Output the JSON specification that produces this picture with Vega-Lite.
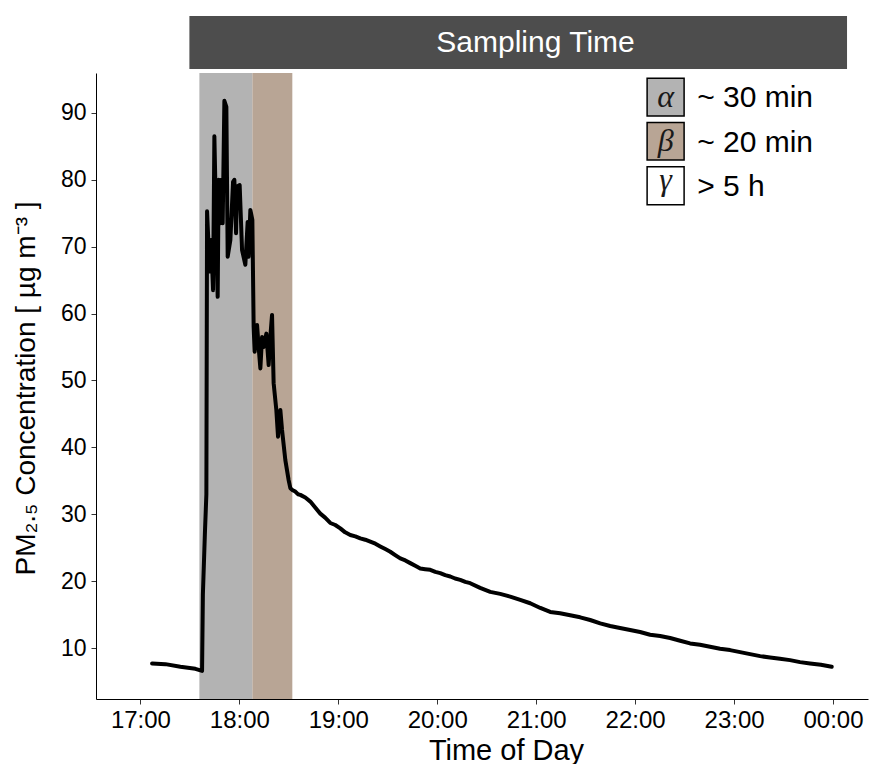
{
  "$schema": "https://vega.github.io/schema/vega-lite/v6.json",
  "width": 772,
  "height": 626,
  "autosize": "none",
  "padding": {"left": 96, "top": 73, "right": 2, "bottom": 65},
  "background": "white",
  "config": {"view": {"stroke": null}, "font": "Liberation Sans"},
  "datasets": {
    "pm": [
      {"time": "2020-01-01T17:07:05", "pm": 7.7},
      {"time": "2020-01-01T17:15:09", "pm": 7.6},
      {"time": "2020-01-01T17:24:14", "pm": 7.2},
      {"time": "2020-01-01T17:33:20", "pm": 6.9},
      {"time": "2020-01-01T17:37:23", "pm": 6.6},
      {"time": "2020-01-01T17:37:53", "pm": 18},
      {"time": "2020-01-01T17:39:05", "pm": 27},
      {"time": "2020-01-01T17:40:00", "pm": 33},
      {"time": "2020-01-01T17:40:25", "pm": 75.3},
      {"time": "2020-01-01T17:42:00", "pm": 66.3},
      {"time": "2020-01-01T17:42:51", "pm": 71},
      {"time": "2020-01-01T17:44:04", "pm": 63.5},
      {"time": "2020-01-01T17:44:51", "pm": 86.5},
      {"time": "2020-01-01T17:46:51", "pm": 62.5},
      {"time": "2020-01-01T17:47:27", "pm": 80},
      {"time": "2020-01-01T17:48:29", "pm": 73.5},
      {"time": "2020-01-01T17:49:05", "pm": 80},
      {"time": "2020-01-01T17:49:53", "pm": 73.5},
      {"time": "2020-01-01T17:50:55", "pm": 91.8},
      {"time": "2020-01-01T17:52:07", "pm": 90.9},
      {"time": "2020-01-01T17:52:55", "pm": 68.5},
      {"time": "2020-01-01T17:54:33", "pm": 71},
      {"time": "2020-01-01T17:56:11", "pm": 79.7},
      {"time": "2020-01-01T17:56:58", "pm": 80},
      {"time": "2020-01-01T17:58:00", "pm": 72},
      {"time": "2020-01-01T17:58:36", "pm": 79},
      {"time": "2020-01-01T18:00:11", "pm": 79.2},
      {"time": "2020-01-01T18:01:38", "pm": 69.5},
      {"time": "2020-01-01T18:03:38", "pm": 67.3},
      {"time": "2020-01-01T18:05:02", "pm": 73.7},
      {"time": "2020-01-01T18:05:38", "pm": 68.5},
      {"time": "2020-01-01T18:06:40", "pm": 75.5},
      {"time": "2020-01-01T18:07:53", "pm": 74},
      {"time": "2020-01-01T18:08:40", "pm": 58},
      {"time": "2020-01-01T18:09:16", "pm": 54.3},
      {"time": "2020-01-01T18:10:44", "pm": 58.3},
      {"time": "2020-01-01T18:11:42", "pm": 55},
      {"time": "2020-01-01T18:12:44", "pm": 51.8},
      {"time": "2020-01-01T18:13:46", "pm": 56.5},
      {"time": "2020-01-01T18:14:44", "pm": 55},
      {"time": "2020-01-01T18:16:22", "pm": 57},
      {"time": "2020-01-01T18:17:46", "pm": 52.3},
      {"time": "2020-01-01T18:18:47", "pm": 56.5},
      {"time": "2020-01-01T18:19:49", "pm": 59.8},
      {"time": "2020-01-01T18:20:47", "pm": 49.6},
      {"time": "2020-01-01T18:22:25", "pm": 45.6},
      {"time": "2020-01-01T18:23:27", "pm": 41.6},
      {"time": "2020-01-01T18:24:51", "pm": 45.6},
      {"time": "2020-01-01T18:25:53", "pm": 42.6},
      {"time": "2020-01-01T18:27:53", "pm": 38.1},
      {"time": "2020-01-01T18:29:53", "pm": 35.1},
      {"time": "2020-01-01T18:30:55", "pm": 33.9},
      {"time": "2020-01-01T18:32:20", "pm": 33.6},
      {"time": "2020-01-01T18:33:56", "pm": 33.4},
      {"time": "2020-01-01T18:35:30", "pm": 33.0},
      {"time": "2020-01-01T18:36:58", "pm": 32.9},
      {"time": "2020-01-01T18:40:00", "pm": 32.5},
      {"time": "2020-01-01T18:43:02", "pm": 31.9},
      {"time": "2020-01-01T18:46:00", "pm": 31.0},
      {"time": "2020-01-01T18:49:05", "pm": 30.1},
      {"time": "2020-01-01T18:52:00", "pm": 29.5},
      {"time": "2020-01-01T18:55:09", "pm": 28.7},
      {"time": "2020-01-01T18:58:10", "pm": 28.4},
      {"time": "2020-01-01T19:01:13", "pm": 27.9},
      {"time": "2020-01-01T19:04:10", "pm": 27.3},
      {"time": "2020-01-01T19:07:16", "pm": 26.9},
      {"time": "2020-01-01T19:10:20", "pm": 26.7},
      {"time": "2020-01-01T19:13:20", "pm": 26.4},
      {"time": "2020-01-01T19:16:20", "pm": 26.2},
      {"time": "2020-01-01T19:19:23", "pm": 25.9},
      {"time": "2020-01-01T19:22:30", "pm": 25.6},
      {"time": "2020-01-01T19:25:27", "pm": 25.2},
      {"time": "2020-01-01T19:28:30", "pm": 24.8},
      {"time": "2020-01-01T19:31:31", "pm": 24.4},
      {"time": "2020-01-01T19:34:30", "pm": 23.9},
      {"time": "2020-01-01T19:37:35", "pm": 23.4},
      {"time": "2020-01-01T19:40:40", "pm": 23.1},
      {"time": "2020-01-01T19:43:38", "pm": 22.7},
      {"time": "2020-01-01T19:46:40", "pm": 22.3},
      {"time": "2020-01-01T19:49:42", "pm": 21.9},
      {"time": "2020-01-01T19:52:40", "pm": 21.8},
      {"time": "2020-01-01T19:55:46", "pm": 21.7},
      {"time": "2020-01-01T19:58:50", "pm": 21.4},
      {"time": "2020-01-01T20:01:49", "pm": 21.2},
      {"time": "2020-01-01T20:04:50", "pm": 20.9},
      {"time": "2020-01-01T20:07:53", "pm": 20.7},
      {"time": "2020-01-01T20:10:50", "pm": 20.4},
      {"time": "2020-01-01T20:13:56", "pm": 20.2},
      {"time": "2020-01-01T20:17:00", "pm": 19.9},
      {"time": "2020-01-01T20:20:00", "pm": 19.7},
      {"time": "2020-01-01T20:26:00", "pm": 19.0},
      {"time": "2020-01-01T20:32:07", "pm": 18.4},
      {"time": "2020-01-01T20:38:10", "pm": 18.1},
      {"time": "2020-01-01T20:44:14", "pm": 17.7},
      {"time": "2020-01-01T20:50:20", "pm": 17.2},
      {"time": "2020-01-01T20:56:22", "pm": 16.7},
      {"time": "2020-01-01T21:02:30", "pm": 16.0},
      {"time": "2020-01-01T21:08:29", "pm": 15.4},
      {"time": "2020-01-01T21:14:30", "pm": 15.2},
      {"time": "2020-01-01T21:20:37", "pm": 14.9},
      {"time": "2020-01-01T21:26:40", "pm": 14.6},
      {"time": "2020-01-01T21:32:44", "pm": 14.2},
      {"time": "2020-01-01T21:38:50", "pm": 13.7},
      {"time": "2020-01-01T21:44:51", "pm": 13.3},
      {"time": "2020-01-01T21:50:50", "pm": 13.0},
      {"time": "2020-01-01T21:56:58", "pm": 12.7},
      {"time": "2020-01-01T22:03:00", "pm": 12.4},
      {"time": "2020-01-01T22:09:05", "pm": 12.0},
      {"time": "2020-01-01T22:15:10", "pm": 11.8},
      {"time": "2020-01-01T22:21:13", "pm": 11.5},
      {"time": "2020-01-01T22:27:20", "pm": 11.1},
      {"time": "2020-01-01T22:33:20", "pm": 10.7},
      {"time": "2020-01-01T22:39:20", "pm": 10.5},
      {"time": "2020-01-01T22:45:27", "pm": 10.2},
      {"time": "2020-01-01T22:51:30", "pm": 9.9},
      {"time": "2020-01-01T22:57:35", "pm": 9.7},
      {"time": "2020-01-01T23:03:40", "pm": 9.4},
      {"time": "2020-01-01T23:09:42", "pm": 9.1},
      {"time": "2020-01-01T23:15:50", "pm": 8.8},
      {"time": "2020-01-01T23:21:49", "pm": 8.6},
      {"time": "2020-01-01T23:27:50", "pm": 8.4},
      {"time": "2020-01-01T23:33:56", "pm": 8.2},
      {"time": "2020-01-01T23:40:00", "pm": 7.9},
      {"time": "2020-01-01T23:46:04", "pm": 7.7},
      {"time": "2020-01-01T23:52:40", "pm": 7.5},
      {"time": "2020-01-01T23:59:12", "pm": 7.2}
    ],
    "phases": [
      {"phase": "alpha", "start": "2020-01-01T17:35:45", "end": "2020-01-01T18:07:53"},
      {"phase": "beta", "start": "2020-01-01T18:07:53", "end": "2020-01-01T18:32:07"}
    ],
    "strip": [
      {"label": "Sampling Time", "start": "2020-01-01T17:29:42", "end": "2020-01-02T00:08:30", "mid": "2020-01-01T20:59:36", "lo": 96.56, "hi": 104.48, "base": 99.1}
    ],
    "legend": [
      {"phase": "alpha", "symbol": "α", "label": "~ 30 min", "t0": "2020-01-01T22:07:16", "t1": "2020-01-01T22:29:42", "c0": 89.54, "c1": 95.17, "tm": "2020-01-01T22:18:30", "cs": 90.93, "tl": "2020-01-01T22:37:36", "cl": 90.84},
      {"phase": "beta", "symbol": "β", "label": "~ 20 min", "t0": "2020-01-01T22:07:16", "t1": "2020-01-01T22:29:42", "c0": 82.96, "c1": 88.57, "tm": "2020-01-01T22:18:30", "cs": 84.35, "tl": "2020-01-01T22:37:36", "cl": 84.2},
      {"phase": "gamma", "symbol": "γ", "label": "> 5 h", "t0": "2020-01-01T22:07:16", "t1": "2020-01-01T22:29:42", "c0": 76.28, "c1": 81.96, "tm": "2020-01-01T22:18:30", "cs": 78.5, "tl": "2020-01-01T22:37:36", "cl": 77.58}
    ]
  },
  "layer": [
    {
      "data": {"name": "phases"},
      "mark": {"type": "rect", "opacity": 1},
      "encoding": {
        "x": {"field": "start", "type": "temporal", "scale": {"domain": [{"year": 2020, "month": 1, "date": 1, "hours": 16, "minutes": 33, "seconds": 4}, {"year": 2020, "month": 1, "date": 2, "hours": 0, "minutes": 21, "seconds": 13}]}},
        "x2": {"field": "end"},
        "color": {"field": "phase", "type": "nominal", "scale": {"domain": ["alpha", "beta", "gamma"], "range": ["#b3b3b3", "#b8a595", "#ffffff"]}, "legend": null}
      }
    },
    {
      "data": {"name": "pm"},
      "mark": {"type": "line", "color": "black", "strokeWidth": 4, "strokeJoin": "round", "strokeCap": "round"},
      "encoding": {
        "x": {
          "field": "time", "type": "temporal",
          "axis": {
            "title": "Time of Day", "format": "%H:%M",
            "values": [
              {"year": 2020, "month": 1, "date": 1, "hours": 17},
              {"year": 2020, "month": 1, "date": 1, "hours": 18},
              {"year": 2020, "month": 1, "date": 1, "hours": 19},
              {"year": 2020, "month": 1, "date": 1, "hours": 20},
              {"year": 2020, "month": 1, "date": 1, "hours": 21},
              {"year": 2020, "month": 1, "date": 1, "hours": 22},
              {"year": 2020, "month": 1, "date": 1, "hours": 23},
              {"year": 2020, "month": 1, "date": 2, "hours": 0}
            ],
            "grid": false, "labelFontSize": 24, "labelColor": "#000000", "labelPadding": 4, "labelFlush": false,
            "tickSize": 5, "tickColor": "#333333", "domainColor": "#000000",
            "titleFontSize": 29, "titleFontWeight": "normal", "titleColor": "#000000",
            "titleX": 410, "titleY": 37
          }
        },
        "y": {
          "field": "pm", "type": "quantitative",
          "scale": {"domain": [2.39, 95.96], "nice": false, "zero": false},
          "axis": {
            "title": "PM₂.₅ Concentration [ µg m⁻³ ]", "values": [10, 20, 30, 40, 50, 60, 70, 80, 90],
            "grid": false, "labelFontSize": 23, "labelColor": "#000000", "labelPadding": 5,
            "tickSize": 5, "tickColor": "#333333", "domainColor": "#000000",
            "titleFontSize": 28, "titleFontWeight": "normal", "titleColor": "#000000",
            "titleX": -56, "titleY": 315
          }
        }
      }
    },
    {
      "data": {"name": "strip"},
      "mark": {"type": "rect", "color": "#4d4d4d", "clip": false},
      "encoding": {
        "x": {"field": "start", "type": "temporal"},
        "x2": {"field": "end"},
        "y": {"field": "lo", "type": "quantitative"},
        "y2": {"field": "hi"}
      }
    },
    {
      "data": {"name": "strip"},
      "mark": {"type": "text", "color": "white", "fontSize": 30, "align": "center", "baseline": "alphabetic", "font": "Liberation Sans"},
      "encoding": {
        "x": {"field": "mid", "type": "temporal"},
        "y": {"field": "base", "type": "quantitative"},
        "text": {"field": "label"}
      }
    },
    {
      "data": {"name": "legend"},
      "mark": {"type": "rect", "stroke": "black", "strokeWidth": 1.5, "opacity": 1},
      "encoding": {
        "x": {"field": "t0", "type": "temporal"},
        "x2": {"field": "t1"},
        "y": {"field": "c0", "type": "quantitative"},
        "y2": {"field": "c1"},
        "color": {"field": "phase", "type": "nominal", "legend": null}
      }
    },
    {
      "data": {"name": "legend"},
      "mark": {"type": "text", "color": "#1a1a1a", "fontSize": 32, "fontStyle": "italic", "font": "Liberation Serif", "align": "center", "baseline": "alphabetic"},
      "encoding": {
        "x": {"field": "tm", "type": "temporal"},
        "y": {"field": "cs", "type": "quantitative"},
        "text": {"field": "symbol"}
      }
    },
    {
      "data": {"name": "legend"},
      "mark": {"type": "text", "color": "#000000", "fontSize": 30, "font": "Liberation Sans", "align": "left", "baseline": "alphabetic"},
      "encoding": {
        "x": {"field": "tl", "type": "temporal"},
        "y": {"field": "cl", "type": "quantitative"},
        "text": {"field": "label"}
      }
    }
  ]
}
